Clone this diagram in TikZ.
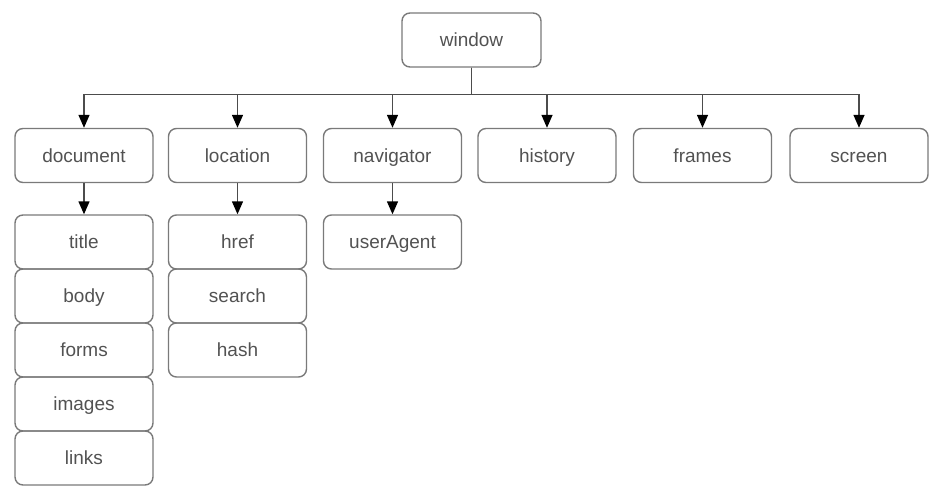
\documentclass[tikz,border=0pt]{standalone}
\usepackage{fontspec}
\setmainfont{Liberation Sans}
\usetikzlibrary{arrows.meta}
\begin{document}
\begin{tikzpicture}[x=1pt,y=-1pt,
  box/.style={draw=black!52, line width=1.4pt, rounded corners=8pt,
    minimum width=138pt, minimum height=54pt, inner sep=0pt,
    text height=15pt, text depth=2pt,
    text=black!68, font=\fontsize{19}{22}\selectfont},
  arr/.style={draw=black!70, line width=1.4pt, -{Triangle[length=13pt,width=11pt,color=black]}}]
\useasboundingbox (0,0) rectangle (940,495);
\node[box, minimum width=139pt] (window) at (471.5,40) {window};
\node[box] (document) at (84,155.5) {document};
\node[box] (location) at (237.5,155.5) {location};
\node[box] (navigator) at (392.5,155.5) {navigator};
\node[box] (history) at (547,155.5) {history};
\node[box] (frames) at (702.5,155.5) {frames};
\node[box] (screen) at (859,155.5) {screen};
\node[box] (title) at (84,242) {title};
\node[box] (body) at (84,296) {body};
\node[box] (forms) at (84,350) {forms};
\node[box] (images) at (84,404) {images};
\node[box] (links) at (84,458) {links};
\node[box] (href) at (237.5,242) {href};
\node[box] (search) at (237.5,296) {search};
\node[box] (hash) at (237.5,350) {hash};
\node[box] (userAgent) at (392.5,242) {userAgent};
\foreach \c in {document,location,navigator,history,frames,screen}
  \draw[arr] (window.south) -- ++(0,27) -| (\c.north);
\draw[arr] (document.south) -- (title.north);
\draw[arr] (location.south) -- (href.north);
\draw[arr] (navigator.south) -- (userAgent.north);
\end{tikzpicture}
\end{document}
